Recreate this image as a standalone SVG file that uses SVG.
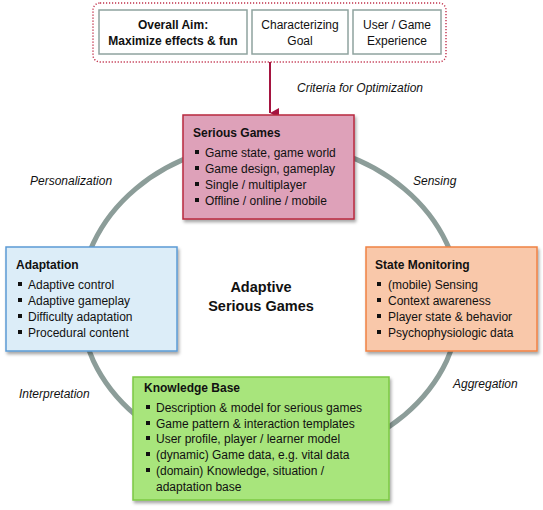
<svg xmlns="http://www.w3.org/2000/svg" width="543" height="510" viewBox="0 0 543 510">
<defs>
<filter id="sh" x="-10%" y="-10%" width="125%" height="130%">
<feDropShadow dx="1.5" dy="2.5" stdDeviation="1.5" flood-color="#000" flood-opacity="0.35"/>
</filter>
<marker id="ah" markerWidth="10" markerHeight="10" refX="5" refY="9" orient="auto" markerUnits="userSpaceOnUse" viewBox="0 0 10 10">
<path d="M0,0 L10,0 L5,9 Z" fill="#a51440"/>
</marker>
</defs>
<style>
text{font-family:"Liberation Sans",Arial,sans-serif;fill:#111;}
.t{font-size:12px;}
.b{font-size:12px;font-weight:bold;}
.i{font-size:12px;font-style:italic;}
.c{text-anchor:middle;}
.big{font-size:14.5px;font-weight:bold;text-anchor:middle;}
.top{fill:#fff;stroke:#8fa39f;stroke-width:1.5;}
.bl{fill:#111;}
</style>
<rect width="543" height="510" fill="#fff"/>
<g id="connectors">
<ellipse cx="270" cy="302" rx="190" ry="160" fill="none" stroke="#8c9d99" stroke-width="5"/>
<line x1="270" y1="62" x2="270" y2="113" stroke="#a51440" stroke-width="2" marker-end="url(#ah)"/>
</g>
<g id="criteria">
<rect x="93" y="3" width="353" height="59" rx="7" fill="none" stroke="#c0304a" stroke-width="1.4" stroke-dasharray="1.2,1.8"/>
<g id="aim">
<rect class="top" x="99" y="10" width="148" height="44"/>
<text class="b c" x="173" y="29">Overall Aim:</text>
<text class="b c" x="173" y="45">Maximize effects &amp; fun</text>
</g>
<g id="goal">
<rect class="top" x="252" y="10" width="96" height="44"/>
<text class="t c" x="300" y="29">Characterizing</text>
<text class="t c" x="300" y="45">Goal</text>
</g>
<g id="experience">
<rect class="top" x="353" y="10" width="88" height="44"/>
<text class="t c" x="397" y="29">User / Game</text>
<text class="t c" x="397" y="45">Experience</text>
</g>
</g>
<g id="labels">
<text class="i" x="297" y="92">Criteria for Optimization</text>
<text class="i" x="30" y="185">Personalization</text>
<text class="i" x="413" y="185">Sensing</text>
<text class="i" x="19" y="398">Interpretation</text>
<text class="i" x="453" y="388">Aggregation</text>
</g>
<g id="center">
<text class="big" x="261" y="292">Adaptive</text>
<text class="big" x="261" y="311">Serious Games</text>
</g>
<g id="serious-games">
<rect x="183" y="115" width="171" height="104" fill="#dea1b9" stroke="#b8283f" stroke-width="1.5" filter="url(#sh)"/>
<text class="b" x="193" y="137">Serious Games</text>
<rect class="bl" x="195" y="150" width="4" height="4"/><text class="t" x="205" y="157">Game state, game world</text>
<rect class="bl" x="195" y="166" width="4" height="4"/><text class="t" x="205" y="173">Game design, gameplay</text>
<rect class="bl" x="195" y="182" width="4" height="4"/><text class="t" x="205" y="189">Single / multiplayer</text>
<rect class="bl" x="195" y="198" width="4" height="4"/><text class="t" x="205" y="205">Offline / online / mobile</text>
</g>
<g id="adaptation">
<rect x="6" y="247" width="171" height="104" fill="#dcedf8" stroke="#5b9bd5" stroke-width="1.5" filter="url(#sh)"/>
<text class="b" x="16" y="269">Adaptation</text>
<rect class="bl" x="18" y="282" width="4" height="4"/><text class="t" x="28" y="289">Adaptive control</text>
<rect class="bl" x="18" y="298" width="4" height="4"/><text class="t" x="28" y="305">Adaptive gameplay</text>
<rect class="bl" x="18" y="314" width="4" height="4"/><text class="t" x="28" y="321">Difficulty adaptation</text>
<rect class="bl" x="18" y="330" width="4" height="4"/><text class="t" x="28" y="337">Procedural content</text>
</g>
<g id="state-monitoring">
<rect x="366" y="247" width="171" height="104" fill="#f9c8aa" stroke="#f08244" stroke-width="1.5" filter="url(#sh)"/>
<text class="b" x="375" y="269">State Monitoring</text>
<rect class="bl" x="377" y="282" width="4" height="4"/><text class="t" x="388" y="289">(mobile) Sensing</text>
<rect class="bl" x="377" y="298" width="4" height="4"/><text class="t" x="388" y="305">Context awareness</text>
<rect class="bl" x="377" y="314" width="4" height="4"/><text class="t" x="388" y="321">Player state &amp; behavior</text>
<rect class="bl" x="377" y="330" width="4" height="4"/><text class="t" x="388" y="337">Psychophysiologic data</text>
</g>
<g id="knowledge-base">
<rect x="133" y="377" width="256" height="123" fill="#a8e57c" stroke="#7cc843" stroke-width="1.5" filter="url(#sh)"/>
<text class="b" x="144" y="392">Knowledge Base</text>
<rect class="bl" x="146" y="405" width="4" height="4"/><text class="t" x="156" y="412">Description &amp; model for serious games</text>
<rect class="bl" x="146" y="421" width="4" height="4"/><text class="t" x="156" y="428">Game pattern &amp; interaction templates</text>
<rect class="bl" x="146" y="436" width="4" height="4"/><text class="t" x="156" y="443">User profile, player / learner model</text>
<rect class="bl" x="146" y="452" width="4" height="4"/><text class="t" x="156" y="459">(dynamic) Game data, e.g. vital data</text>
<rect class="bl" x="146" y="468" width="4" height="4"/><text class="t" x="156" y="475">(domain) Knowledge, situation /</text>
<text class="t" x="156" y="491">adaptation base</text>
</g>
</svg>
